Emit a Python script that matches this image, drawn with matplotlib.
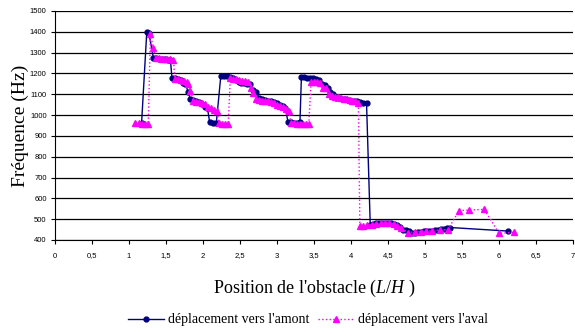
import matplotlib
matplotlib.use('Agg')
from matplotlib import pyplot as plt

plt.rcParams['mathtext.fontset'] = 'custom'
plt.rcParams['mathtext.rm'] = 'Liberation Serif'
plt.rcParams['mathtext.it'] = 'Liberation Serif:italic'

# deplacement vers l'amont (blue)
x_amont = [1.17, 1.24, 1.27, 1.33, 1.37, 1.41, 1.45, 1.49, 1.53, 1.56,
           1.58, 1.62, 1.66, 1.70, 1.73, 1.76, 1.80, 1.83, 1.87, 1.91,
           1.95, 1.99, 2.03, 2.06, 2.09, 2.13, 2.18, 2.24, 2.28, 2.32,
           2.36, 2.40, 2.44, 2.48, 2.52, 2.56, 2.60, 2.64, 2.68, 2.72,
           2.76, 2.80, 2.84, 2.88, 2.92, 2.96, 3.00, 3.04, 3.08, 3.11,
           3.15, 3.19, 3.23, 3.27, 3.31, 3.33, 3.37, 3.41, 3.45, 3.49,
           3.53, 3.57, 3.61, 3.65, 3.69, 3.72, 3.76, 3.80, 3.84, 3.88,
           3.92, 3.96, 4.00, 4.04, 4.08, 4.12, 4.16, 4.21, 4.26, 4.30,
           4.34, 4.38, 4.42, 4.46, 4.50, 4.54, 4.58, 4.62, 4.66, 4.70,
           4.74, 4.78, 4.82, 4.86, 4.90, 4.94, 4.98, 5.02, 5.06, 5.10,
           5.14, 5.18, 5.22, 5.26, 5.30, 5.34, 6.12]
f_amont = [962, 1398, 1392, 1274, 1272, 1270, 1270, 1268, 1267, 1265,
           1180, 1178, 1175, 1168, 1155, 1150, 1112, 1075, 1072, 1068,
           1063, 1055, 1040, 1035, 965, 963, 962, 1186, 1188, 1186,
           1182, 1178, 1170, 1160, 1155, 1152, 1150, 1148, 1120, 1112,
           1080, 1075, 1073, 1070, 1068, 1065, 1060, 1048, 1042, 1035,
           966, 965, 964, 964, 965, 1184, 1182, 1180, 1178, 1176,
           1174, 1170, 1150, 1144, 1130, 1112, 1100, 1082, 1080, 1077,
           1075, 1072, 1070, 1068, 1066, 1063, 1060, 1056, 474, 478,
           480, 481, 482, 482, 481, 480, 478, 470, 462, 450,
           446, 442, 436, 433, 438, 440, 442, 442, 443, 445,
           447, 449, 451, 455, 458, 460, 443]

# deplacement vers l'aval (magenta)
x_aval = [1.08, 1.13, 1.18, 1.22, 1.26, 1.29, 1.33, 1.36, 1.40, 1.44,
          1.48, 1.52, 1.56, 1.60, 1.62, 1.66, 1.70, 1.74, 1.78, 1.80,
          1.83, 1.87, 1.91, 1.95, 1.99, 2.03, 2.07, 2.11, 2.15, 2.19,
          2.22, 2.26, 2.30, 2.34, 2.37, 2.41, 2.45, 2.49, 2.53, 2.57,
          2.61, 2.65, 2.68, 2.72, 2.76, 2.80, 2.84, 2.88, 2.92, 2.96,
          3.00, 3.04, 3.08, 3.12, 3.16, 3.19, 3.23, 3.27, 3.31, 3.35,
          3.39, 3.43, 3.46, 3.50, 3.54, 3.58, 3.62, 3.66, 3.70, 3.74,
          3.78, 3.82, 3.86, 3.90, 3.94, 3.98, 4.02, 4.06, 4.10, 4.12,
          4.16, 4.22, 4.28, 4.34, 4.40, 4.46, 4.52, 4.58, 4.62, 4.68,
          4.77, 4.86, 4.94, 5.02, 5.10, 5.20, 5.31, 5.46, 5.60, 5.80,
          6.00, 6.20]
f_aval = [960, 960, 958, 958, 958, 1390, 1320, 1275, 1272, 1270,
          1270, 1268, 1268, 1266, 1175, 1172, 1170, 1165, 1160, 1150,
          1115, 1070, 1065, 1062, 1058, 1052, 1040, 1035, 1025, 1018,
          960, 958, 956, 955, 1180, 1175, 1172, 1170, 1165, 1162,
          1160, 1130, 1105, 1075, 1072, 1070, 1068, 1066, 1063, 1060,
          1050, 1045, 1040, 1030, 1018, 962, 960, 958, 958, 958,
          957, 958, 1160, 1158, 1157, 1155, 1130, 1128, 1100, 1092,
          1088, 1085, 1082, 1078, 1075, 1072, 1070, 1066, 1060, 466,
          466, 472, 474, 478, 480, 482, 482, 478, 468, 460,
          435, 440, 440, 443, 445, 448, 450, 541, 544, 547,
          432, 437]

fig = plt.figure(figsize=(5.75, 3.31), dpi=100)
ax = fig.add_axes([55 / 575, 1 - 240 / 331, 518 / 575, 229 / 331])

ax.plot(x_amont, f_amont, '-o', color='#000080', lw=1, ms=3.5,
        label="déplacement vers l'amont")
ax.plot(x_aval, f_aval, ':^', color='#ff00ff', lw=1, ms=4,
        label="déplacement vers l'aval")

ax.set_xlim(0, 7)
ax.set_ylim(400, 1500)
ax.set_xticks([i * 0.5 for i in range(15)])
ax.set_xticklabels(['0', '0,5', '1', '1,5', '2', '2,5', '3', '3,5', '4',
                    '4,5', '5', '5,5', '6', '6,5', '7'])
ax.set_yticks(range(400, 1600, 100))
ax.tick_params(labelsize=5.5, length=3, width=0.8, pad=3)
ax.tick_params(axis='x', pad=6)
for lbl in ax.get_xticklabels() + ax.get_yticklabels():
    lbl.set_family('Liberation Sans')
ax.yaxis.grid(True, color='black', lw=0.9)
ax.set_axisbelow(True)
for s in ['top', 'right']:
    ax.spines[s].set_visible(False)
for s in ['left', 'bottom']:
    ax.spines[s].set_linewidth(0.8)

ax.set_ylabel('Fréquence (Hz)', family='Liberation Serif', fontsize=14,
              labelpad=1)
ax.set_xlabel("Position de l'obstacle ($L/H$ )",
              family='Liberation Serif', fontsize=13, labelpad=13)

fig.legend(loc='center', bbox_to_anchor=(308 / 575, 1 - 320 / 331), ncol=2,
           frameon=False, prop={'family': 'Liberation Serif', 'size': 10},
           handlelength=2.6, columnspacing=0.6, handletextpad=0.3)

fig.savefig('out.png', dpi=100)
